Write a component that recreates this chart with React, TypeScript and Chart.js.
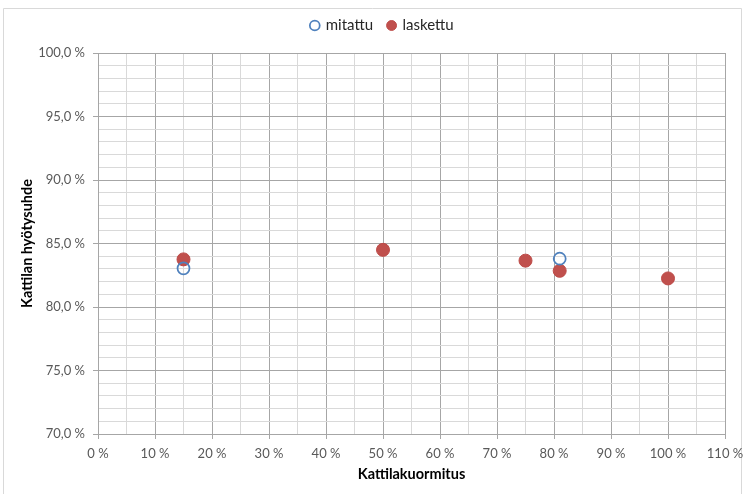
import React, { useEffect, useRef } from "react";
import { Chart, registerables } from "chart.js";

Chart.register(...registerables);

// Boiler load (%) and boiler efficiency (%)
const measuredLoad = [15, 81];
const measuredEfficiency = [83.05, 83.8];
const calculatedLoad = [15, 50, 75, 81, 100];
const calculatedEfficiency = [83.75, 84.5, 83.65, 82.85, 82.25];

const seriesNames = ["mitattu", "laskettu"];
const xTitle = "Kattilakuormitus";
const yTitle = "Kattilan hyötysuhde";

const FONT = "Lato, 'Open Sans', sans-serif";
const MAJOR = "#a6a6a6";
const MINOR = "#d9d9d9";

const toPoints = (xs: number[], ys: number[]) => xs.map((x, i) => ({ x, y: ys[i] }));

// Nudge the legend row: up a little, and centred over the plot area
const legendOffset = {
  id: "legendOffset",
  afterLayout(chart: any) {
    const legend = chart.legend;
    if (!legend) return;
    legend.top -= 10;
    legend.bottom -= 10;
    legend.left += 20;
    legend.right += 20;
  },
};

// White background with the outer frame
const frame = {
  id: "frame",
  beforeDraw(chart: any) {
    const { ctx, width, height } = chart;
    ctx.save();
    ctx.fillStyle = "#ffffff";
    ctx.fillRect(0, 0, width, height);
    ctx.strokeStyle = "#d9d9d9";
    ctx.lineWidth = 1;
    ctx.beginPath();
    ctx.moveTo(3.5, height);
    ctx.lineTo(3.5, 8.5);
    ctx.lineTo(width - 2.5, 8.5);
    ctx.lineTo(width - 2.5, height);
    ctx.stroke();
    ctx.restore();
  },
};

export default function App() {
  const canvasRef = useRef<HTMLCanvasElement | null>(null);

  useEffect(() => {
    if (!canvasRef.current) return;
    const chart = new Chart(canvasRef.current, {
      type: "scatter",
      data: {
        datasets: [
          {
            label: seriesNames[0],
            data: toPoints(measuredLoad, measuredEfficiency),
            pointStyle: "circle",
            pointRadius: 6,
            pointBorderWidth: 1.75,
            borderWidth: 1.5,
            borderColor: "#4f81bd",
            backgroundColor: "rgba(255,255,255,0)",
            pointBackgroundColor: "rgba(255,255,255,0)",
            pointBorderColor: "#4f81bd",
          },
          {
            label: seriesNames[1],
            data: toPoints(calculatedLoad, calculatedEfficiency),
            pointStyle: "circle",
            pointRadius: 6.5,
            pointBorderWidth: 1,
            borderWidth: 1,
            borderColor: "#be4b48",
            backgroundColor: "#c0504d",
            pointBackgroundColor: "#c0504d",
            pointBorderColor: "#be4b48",
          },
        ],
      },
      options: {
        animation: false,
        responsive: false,
        maintainAspectRatio: false,
        layout: { padding: { left: 0, right: 19, top: 13, bottom: 0 } },
        plugins: {
          tooltip: { enabled: false },
          legend: {
            position: "top",
            align: "center",
            labels: {
              usePointStyle: true,
              boxWidth: 7,
              boxHeight: 7,
              padding: 15,
              color: "#262626",
              font: { family: FONT, size: 15 },
            },
          },
        },
        scales: {
          x: {
            type: "linear",
            min: 0,
            max: 110,
            afterFit(scale: any) {
              scale.height = 60;
              scale.paddingLeft = 0;
              scale.paddingRight = 0;
            },
            border: { color: MAJOR, width: 1 },
            grid: {
              color: (c: any) => (c.tick && c.tick.value % 10 === 0 ? MAJOR : MINOR),
              tickColor: (c: any) => (c.tick && c.tick.value % 10 === 0 ? MAJOR : "rgba(0,0,0,0)"),
              tickLength: 5,
              lineWidth: 1,
            },
            ticks: {
              stepSize: 5,
              autoSkip: false,
              maxRotation: 0,
              padding: 7,
              color: "#595959",
              font: { family: FONT, size: 13 },
              callback: (v: any) => (Number(v) % 10 === 0 ? `${v} %` : ""),
            },
            title: {
              display: true,
              text: xTitle,
              color: "#000000",
              font: { family: FONT, size: 14.5, weight: "bold" },
              padding: { top: 4, bottom: 11 },
            },
          },
          y: {
            type: "linear",
            min: 70,
            max: 100,
            afterFit(scale: any) {
              scale.width = 98;
            },
            border: { color: MAJOR, width: 1 },
            grid: {
              color: (c: any) => (c.tick && c.tick.value % 5 === 0 ? MAJOR : MINOR),
              tickColor: (c: any) => (c.tick && c.tick.value % 5 === 0 ? MAJOR : "rgba(0,0,0,0)"),
              tickLength: 5,
              lineWidth: 1,
            },
            ticks: {
              stepSize: 1,
              autoSkip: false,
              padding: 8,
              color: "#595959",
              font: { family: FONT, size: 13 },
              callback: (v: any) =>
                Number(v) % 5 === 0 ? `${Number(v).toFixed(1).replace(".", ",")} %` : "",
            },
            title: {
              display: true,
              text: yTitle,
              color: "#000000",
              font: { family: FONT, size: 14.5, weight: "bold" },
              padding: { top: 19, bottom: 0 },
            },
          },
        },
      },
      plugins: [legendOffset, frame],
    } as any);
    return () => chart.destroy();
  }, []);

  return (
    <div style={{ position: "fixed", left: 0, top: 0, width: 744, height: 494, background: "#fff" }}>
      <canvas ref={canvasRef} width={744} height={494} style={{ display: "block" }} />
    </div>
  );
}
